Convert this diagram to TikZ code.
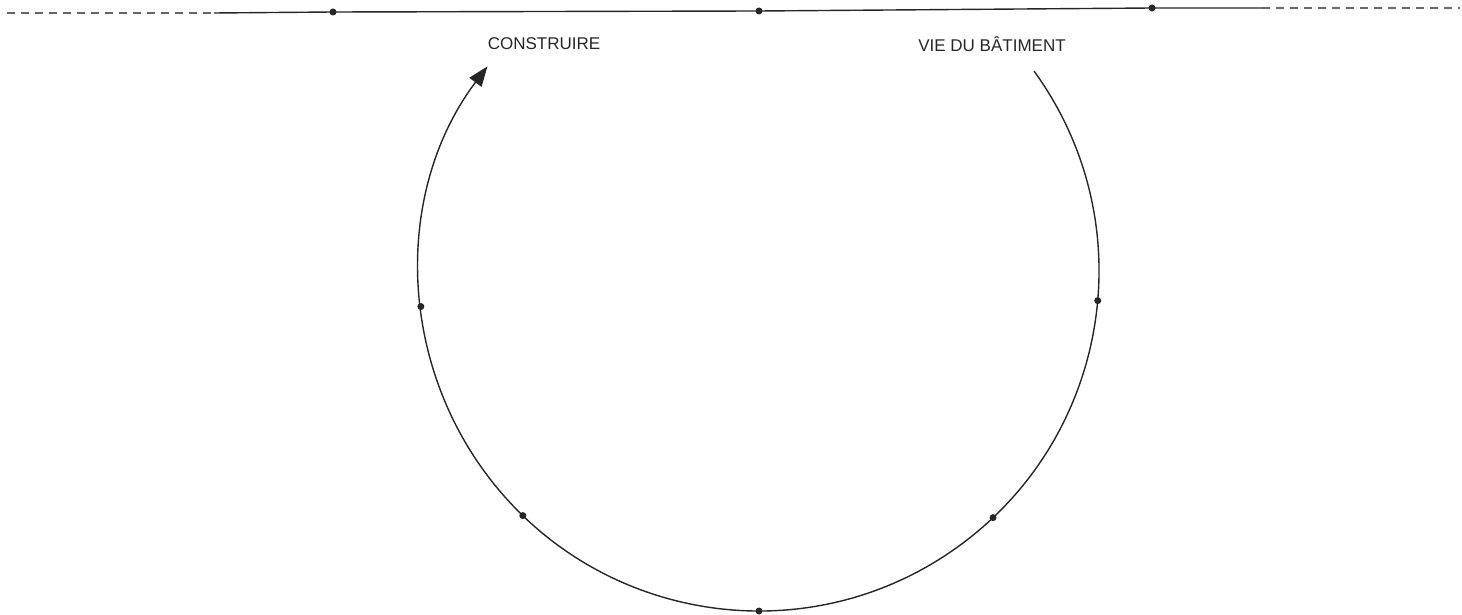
\documentclass[tikz,border=0pt]{standalone}
\usepackage{fontspec}
\setmainfont{Liberation Sans}
\usetikzlibrary{arrows.meta,calc}
\begin{document}
\begin{tikzpicture}[x=1pt,y=1pt,
  ink/.style={draw=black!85,line width=1.4pt},
  dashline/.style={draw=black!60,line width=1.5pt,dash pattern=on 8pt off 6pt},
  dot/.style={circle,fill=black!85,inner sep=0pt,minimum size=7pt},
  lbl/.style={font=\fontsize{17}{19}\selectfont,text=black!85,inner sep=0pt}]
\useasboundingbox (0,0) rectangle (1462,614);
\coordinate (c) at (759,343);
% top line
\coordinate (dl0) at (7,601);
\coordinate (dl1) at (214,601);
\coordinate (dr0) at (1262,606);
\coordinate (dr1) at (1460,606);
\node[dot] (t1) at (333,602) {};
\node[dot] (t2) at (759,603) {};
\node[dot] (t3) at (1152,606) {};
\draw[dashline] (dl0) -- (dl1);
\draw[dashline] (dr0) -- (dr1);
\draw[ink] (dl1) -- (t1.center) -- (t2.center) -- (t3.center) -- (dr0);
% labels
\node[lbl] (construire) at (544,570) {CONSTRUIRE};
\node[lbl] (vie) at (992,570) {VIE DU BÂTIMENT};
% cycle arc
\draw[ink,-{Triangle[length=20pt,width=15pt]}] (c) ++(36:340pt) arc[start angle=36,end angle=-217,radius=340pt];
\foreach \a/\n in {186/p1,226/p2,270/p3,313.5/p4,355/p5}{
  \node[dot] (\n) at ($(c)+(\a:340pt)$) {};
}
\end{tikzpicture}
\end{document}
